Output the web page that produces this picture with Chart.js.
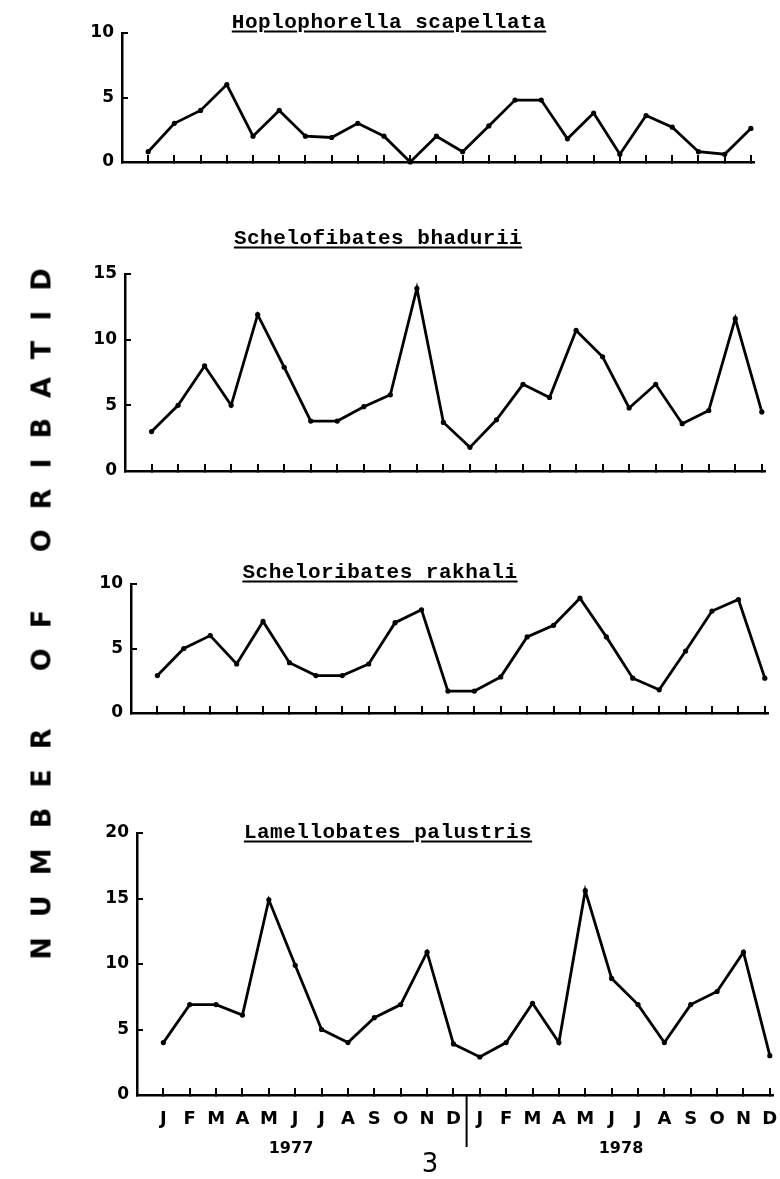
<!DOCTYPE html>
<html>
<head>
<meta charset="utf-8">
<script src="https://cdn.jsdelivr.net/npm/chart.js@4.4.1/dist/chart.umd.min.js"></script>
<style>
  body { margin: 0; background: #fff; }
  #page { position: relative; width: 780px; height: 1179px; overflow: hidden; background: #fff; }
  #page canvas { position: absolute; left: 0; }
  .title {
    position: absolute; transform: translate(-50%, -50%); white-space: nowrap;
    font: bold 21px "Liberation Mono", monospace; letter-spacing: 0.5px;
    text-decoration: underline; text-decoration-thickness: 2px; text-underline-offset: 3px;
  }
  .year { position: absolute; transform: translate(-50%, -50%); font: bold 16px "DejaVu Sans", sans-serif; }
  #ylab {
    position: absolute; left: 41px; top: 604px; white-space: pre;
    transform: translate(-50%, -50%) rotate(-90deg);
    font: bold 27px "DejaVu Sans", sans-serif; letter-spacing: 20px; word-spacing: 8px;
  }
</style>
</head>
<body>
<div id="page">
  <canvas id="c1" width="780" height="200" style="top:0px"></canvas>
  <canvas id="c2" width="780" height="300" style="top:200px"></canvas>
  <canvas id="c3" width="780" height="220" style="top:520px"></canvas>
  <canvas id="c4" width="780" height="399" style="top:780px"></canvas>

  <div class="title" style="left:389px;top:22px">Hoplophorella scapellata</div>
  <div class="title" style="left:378px;top:238px">Schelofibates bhadurii</div>
  <div class="title" style="left:380px;top:572px">Scheloribates rakhali</div>
  <div class="title" style="left:388px;top:832px">Lamellobates palustris</div>

  <div id="ylab">NUMBER OF ORIBATID</div>
  <div class="year" style="left:291px;top:1147px">1977</div>
  <div class="year" style="left:621px;top:1147px">1978</div>
  <div class="year" style="left:430px;top:1163px;font:26px 'DejaVu Sans',sans-serif">3</div>
</div>

<script>
// months Jan 1977 .. Dec 1978
const months = ['J','F','M','A','M','J','J','A','S','O','N','D',
                'J','F','M','A','M','J','J','A','S','O','N','D'];

const hoplophorella = [0.8, 3, 4, 6, 2, 4, 2, 1.9, 3, 2, 0, 2,
                       0.8, 2.8, 4.8, 4.8, 1.8, 3.8, 0.6, 3.6, 2.7, 0.8, 0.6, 2.6];
const bhadurii = [3, 5, 8, 5, 11.9, 7.9, 3.8, 3.8, 4.9, 5.8, 13.9, 3.7,
                  1.8, 3.9, 6.6, 5.6, 10.7, 8.7, 4.8, 6.6, 3.6, 4.6, 11.6, 4.5];
const rakhali = [2.9, 5, 6, 3.8, 7.1, 3.9, 2.9, 2.9, 3.8, 7, 8, 1.7,
                 1.7, 2.8, 5.9, 6.8, 8.9, 5.9, 2.7, 1.8, 4.8, 7.9, 8.8, 2.7];
const palustris = [4, 6.9, 6.9, 6.1, 14.9, 9.9, 5, 4, 5.9, 6.9, 10.9, 3.9,
                   2.9, 4, 7, 4, 15.6, 8.9, 6.9, 4, 6.9, 7.9, 10.9, 3];

const yTicks = [0, 5, 10, 15, 20];

// vertical stroke between the two years, below the month axis
const yearDivider = {
  id: 'yearDivider',
  afterDraw(chart, args, opts) {
    if (!opts.show) return;
    const x = chart.scales.x.getPixelForValue(11.5);
    const ctx = chart.ctx;
    ctx.save();
    ctx.strokeStyle = '#000';
    ctx.lineWidth = 2;
    ctx.beginPath();
    ctx.moveTo(x, chart.chartArea.bottom);
    ctx.lineTo(x, chart.chartArea.bottom + 52);
    ctx.stroke();
    ctx.restore();
  }
};

function makePanel(id, values, yMax, g, showMonths) {
  const ctx = document.getElementById(id).getContext('2d');
  new Chart(ctx, {
    type: 'line',
    data: {
      datasets: [{
        data: values.map((v, i) => ({ x: i, y: v })),
        borderColor: '#000',
        borderWidth: 2.8,
        pointRadius: 2.6,
        pointBackgroundColor: '#000',
        pointBorderWidth: 0,
        tension: 0,
        clip: false
      }]
    },
    options: {
      responsive: false,
      animation: false,
      layout: { padding: { left: 0, right: 780 - g.right, top: g.top, bottom: 0 } },
      plugins: {
        legend: { display: false },
        tooltip: { enabled: false },
        yearDivider: { show: showMonths }
      },
      scales: {
        x: {
          type: 'linear',
          min: -1,
          max: 23.12,
          afterFit: s => { s.height = g.h - g.bottom; s.paddingLeft = 0; s.paddingRight = 0; },
          border: { color: '#000', width: 2.5 },
          grid: { drawOnChartArea: false, tickLength: -7, color: '#000', lineWidth: 2 },
          ticks: {
            display: showMonths,
            stepSize: 1,
            includeBounds: false,
            autoSkip: false,
            maxRotation: 0,
            padding: 21,
            color: '#000',
            font: { family: 'DejaVu Sans', weight: 'bold', size: 18 },
            callback: v => (Number.isInteger(v) && v >= 0 && v < 24) ? months[v] : ''
          }
        },
        y: {
          min: 0,
          max: yMax,
          afterFit: s => { s.width = g.left; },
          border: { color: '#000', width: 2.5 },
          grid: { drawOnChartArea: false, tickLength: -6, color: '#000', lineWidth: 2 },
          ticks: {
            stepSize: 5,
            padding: 14,
            color: '#000',
            font: { family: 'DejaVu Sans', weight: 'bold', size: 17 },
            callback: v => yTicks.includes(v) ? String(v) : ''
          }
        }
      }
    },
    plugins: [yearDivider]
  });
}

makePanel('c1', hoplophorella, 10, { left: 122, right: 754, top: 33, bottom: 162, h: 200 }, false);
makePanel('c2', bhadurii, 15, { left: 125, right: 765, top: 74, bottom: 271, h: 300 }, false);
makePanel('c3', rakhali, 10, { left: 131, right: 768, top: 64, bottom: 193, h: 220 }, false);
makePanel('c4', palustris, 20, { left: 137, right: 773, top: 53, bottom: 315, h: 399 }, true);
</script>
</body>
</html>
